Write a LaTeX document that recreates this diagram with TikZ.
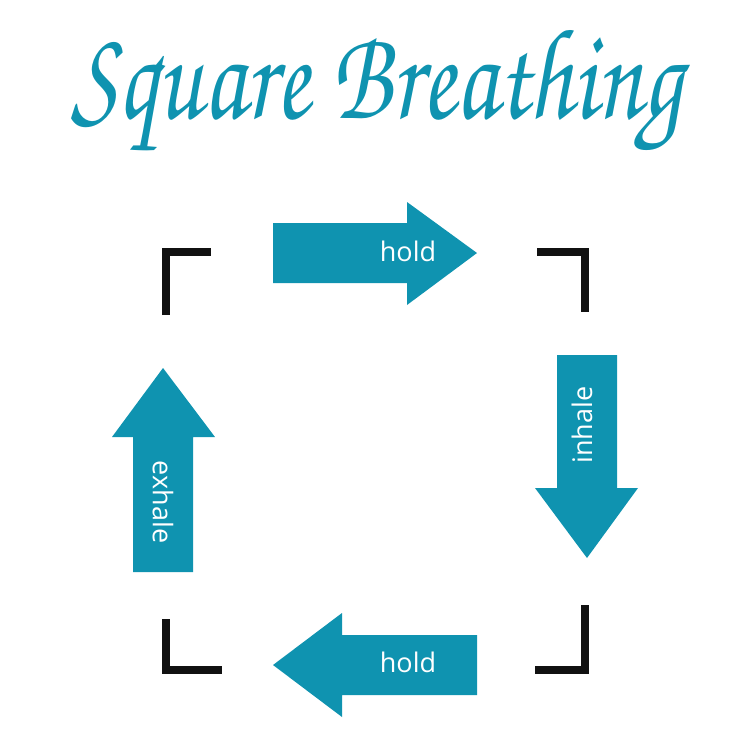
\documentclass[tikz,border=0pt]{standalone}
\usepackage{fontspec}
\setmainfont{Open Sans}
\newfontfamily\chorusfont{texgyrechorus-mediumitalic.otf}
\definecolor{teal1}{HTML}{0F93B0}
\definecolor{ink}{HTML}{111111}
\tikzset{
  arrowshape/.style={fill=teal1, draw=none},
  corner/.style={draw=ink, line width=8pt, line cap=butt, line join=miter},
  lbl/.style={text=white, font=\fontsize{27}{30}\selectfont, inner sep=0pt}
}
\begin{document}
\begin{tikzpicture}[x=1pt,y=-1pt]
\useasboundingbox (0,0) rectangle (750,750);
% title
\node[text=teal1, anchor=base, inner sep=0pt] (title) at (377,118)
  {\scalebox{1}[1.3]{\resizebox{610pt}{!}{\chorusfont Square Breathing}}};
% corners
\draw[corner] (166,315) -- (166,252) -- (211,252);
\draw[corner] (537,252) -- (585,252) -- (585,312);
\draw[corner] (166,619) -- (166,670) -- (222,670);
\draw[corner] (585,605) -- (585,670) -- (535,670);
% arrows
\fill[arrowshape] (273,223) -- (407,223) -- (407,202) -- (477,253) -- (407,305) -- (407,283) -- (273,283) -- cycle;
\fill[arrowshape] (557,355) -- (617,355) -- (617,488) -- (638,488) -- (587,558) -- (535,488) -- (557,488) -- cycle;
\fill[arrowshape] (133,572) -- (133,437) -- (112,437) -- (163,368) -- (215,437) -- (193,437) -- (193,572) -- cycle;
\fill[arrowshape] (477,635) -- (342,635) -- (342,613) -- (273,665) -- (342,717) -- (342,695) -- (477,695) -- cycle;
% labels
\node[lbl] (holdtop) at (408,251) {hold};
\node[lbl, rotate=90] (inhale) at (582,425) {inhale};
\node[lbl, rotate=-90] (exhale) at (163,502) {exhale};
\node[lbl] (holdbot) at (408,662) {hold};
\end{tikzpicture}
\end{document}
